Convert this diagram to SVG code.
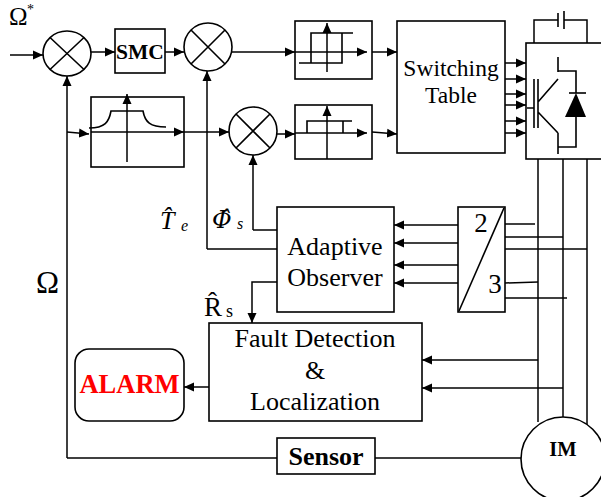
<svg xmlns="http://www.w3.org/2000/svg" width="601" height="497" viewBox="0 0 601 497">
<style>
.b{fill:#fff;stroke:#000;stroke-width:1.6}
.n{fill:none;stroke:#000;stroke-width:1.6;stroke-linejoin:miter}
.c{fill:none;stroke:#000;stroke-width:1.5}
.a{marker-end:url(#ar)}
.t{font-family:"Liberation Serif",serif;fill:#000}
.m{text-anchor:middle}
.bd{font-weight:bold}
.i{font-style:italic}
</style>
<defs>
<marker id="ar" markerUnits="userSpaceOnUse" markerWidth="11" markerHeight="11" refX="10" refY="5" orient="auto"><path d="M0 0.5L10 5L0 9.5Z" fill="#000"/></marker>
</defs>
<g id="connectors">
<path class="c a" d="M10 55H43"/>
<path class="c a" d="M91 52H115"/>
<path class="c a" d="M165 52H184"/>
<path class="c a" d="M232 52H295"/>
<path class="c a" d="M67 458V76"/>
<path class="c" d="M67 458H277"/>
<path class="c a" d="M67 132L89 134"/>
<path class="c a" d="M184 132H229"/>
<path class="c a" d="M277 134H295"/>
<path class="c a" d="M207 249V71"/>
<path class="c" d="M207 249H277"/>
<path class="c a" d="M253 230V155"/>
<path class="c" d="M253 230H277"/>
<path class="c a" d="M277 282H252V323"/>
<path class="c a" d="M372 52H397"/>
<path class="c a" d="M372 132L397 134"/>
<path class="c a" d="M505 63H526"/>
<path class="c a" d="M505 79H526"/>
<path class="c a" d="M505 94H526"/>
<path class="c a" d="M505 105H526"/>
<path class="c a" d="M505 121H526"/>
<path class="c a" d="M505 133H526"/>
<path class="c a" d="M459 225H394"/>
<path class="c a" d="M459 243H394"/>
<path class="c a" d="M459 265H394"/>
<path class="c a" d="M459 283H394"/>
<path class="c" d="M505 224H535"/>
<path class="c" d="M505 237H563"/>
<path class="c" d="M505 249H587"/>
<path class="c" d="M505 283L538 282"/>
<path class="c" d="M505 298H567"/>
<path class="c" d="M538 159V422"/>
<path class="c" d="M563 159V417"/>
<path class="c" d="M587 159V425"/>
<path class="c a" d="M538 360H422"/>
<path class="c a" d="M563 388H422"/>
<path class="c a" d="M209 387H184"/>
<path class="c" d="M375 458H521"/>
</g>
<g id="sum1"><ellipse class="b" cx="67" cy="53.500" rx="24" ry="22.500"/><path class="n" d="M50 37.500L84 69.500M84 37.500L50 69.500"/></g>
<g id="smc"><rect class="b" x="115" y="29" width="50" height="44"/><text class="t m bd" x="140" y="59" font-size="21.500">SMC</text></g>
<g id="sum2"><circle class="b" cx="208" cy="47" r="24"/><path class="n" d="M191 30L225 64M225 30L191 64"/></g>
<g id="filter"><rect class="b" x="91" y="97" width="93" height="70"/>
<path class="n" d="M89 128C105 128 109 122 111 111H143C145 122 150 127 166 127"/>
<path class="c a" d="M91 132H184"/>
<path class="c a" d="M127 162V94"/></g>
<g id="sum3"><circle class="b" cx="253" cy="131" r="24"/><path class="n" d="M236 114L270 148M270 114L236 148"/></g>
<g id="hyst1"><rect class="b" x="295" y="21" width="77" height="58"/>
<path class="n" d="M299 63H342V33M353 33H311V63"/>
<path class="c a" d="M295 52H367"/>
<path class="c a" d="M327 72V23"/></g>
<g id="hyst2"><rect class="b" x="295" y="105" width="77" height="54"/>
<path class="n" d="M307 133V121H352M343 121V133"/>
<path class="c a" d="M295 133H367"/>
<path class="c a" d="M327 159V106"/></g>
<g id="switch"><rect class="b" x="397" y="21" width="108" height="132"/><text class="t m" x="451" y="76" font-size="23.500">Switching</text><text class="t m" x="451" y="103" font-size="23.500">Table</text></g>
<g id="inverter"><rect class="b" x="526" y="43" width="76" height="116"/>
<path class="c" d="M534 43V20H558M564 20H587V43"/>
<path class="n" d="M558 13V27M564 11V29"/>
<path class="n" d="M527 108H534M534 79V128M538 79V128M538 102L558 79M538 112L558 133M558 57V72M558 133V154M558 71H576V93M558 147H576V117"/>
<path d="M565 117L576 93L586 117Z" fill="#000"/><path class="n" d="M569 93H586"/></g>
<g id="conv"><rect class="b" x="458" y="207" width="47" height="105"/><path class="n" d="M504 208L459 311"/><text class="t m" x="481" y="232" font-size="27">2</text><text class="t m" x="495" y="293" font-size="27">3</text></g>
<g id="observer"><rect class="b" x="277" y="207" width="117" height="105"/><text class="t m" x="335" y="255" font-size="26">Adaptive</text><text class="t m" x="335" y="286" font-size="26">Observer</text></g>
<g id="fault"><rect class="b" x="209" y="323" width="213" height="98"/><text class="t m" x="315" y="347" font-size="26">Fault Detection</text><text class="t m" x="315" y="379" font-size="26">&amp;</text><text class="t m" x="315" y="410" font-size="26">Localization</text></g>
<g id="alarm"><rect class="b" x="75" y="349" width="109" height="72" rx="14"/><text class="t m bd" x="129.500" y="393" font-size="26.500" style="fill:#f00">ALARM</text></g>
<g id="sensor"><rect class="b" x="277" y="438" width="98" height="36"/><text class="t m bd" x="326" y="465" font-size="26">Sensor</text></g>
<g id="im"><circle class="b" cx="563" cy="459" r="42"/><text class="t m bd" x="563" y="456" font-size="20.500">IM</text></g>
<g id="labels">
<text class="t" x="9" y="25" font-size="25">Ω</text><text class="t" x="27" y="14" font-size="14">*</text>
<text class="t" x="36" y="293" font-size="31">Ω</text>
<text class="t i" x="160" y="229" font-size="26">T&#770;<tspan x="181" y="231" font-size="16">e</tspan></text>
<text class="t i" x="212" y="228" font-size="24" style="font-family:'DejaVu Serif',serif">Φ&#770;<tspan x="237" y="229" font-size="16" style="font-family:'Liberation Serif',serif">s</tspan></text>
<text class="t" x="204" y="316" font-size="27">R&#770;<tspan x="226" y="317" font-size="18">s</tspan></text>
</g>
</svg>
